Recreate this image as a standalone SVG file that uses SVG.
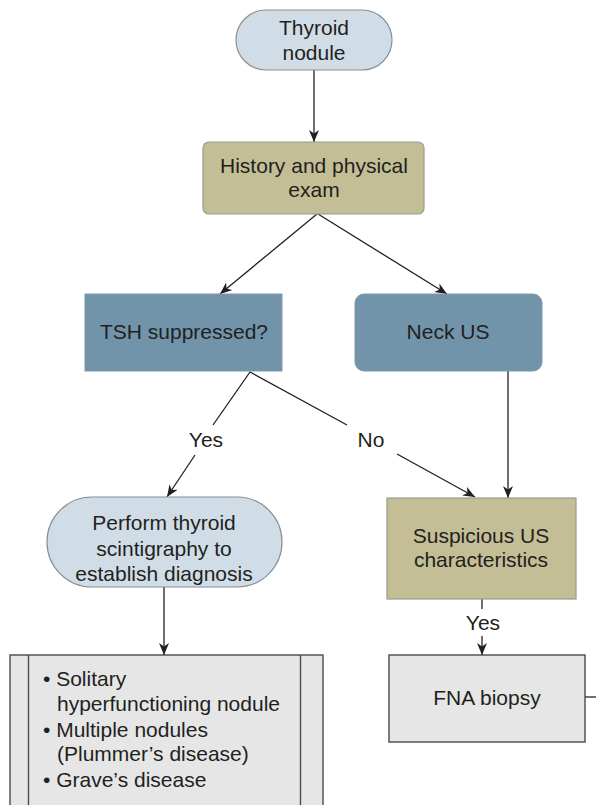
<svg xmlns="http://www.w3.org/2000/svg" width="596" height="805" viewBox="0 0 596 805">
<style>
text{font-family:"Liberation Sans",Arial,sans-serif;font-size:21px;fill:#231f20}
.c{text-anchor:middle}
.pill{fill:#d1dde6;stroke:#8a8f94;stroke-width:1.2}
.tan{fill:#c3be95;stroke:#9a9a90;stroke-width:1.2}
.blue{fill:#7194ab;stroke:#7f98aa;stroke-width:1}
.gray{fill:#e6e6e6;stroke:#4a4a4a;stroke-width:1.4}
.ln{fill:none;stroke:#231f20;stroke-width:1.3}
</style>
<defs>
<marker id="ah" viewBox="0 0 12 10" refX="12" refY="5" markerWidth="12" markerHeight="10" markerUnits="userSpaceOnUse" orient="auto">
<path d="M0,0 L12,5 L0,10 L3.5,5 z" fill="#231f20"/>
</marker>
</defs>
<rect width="596" height="805" fill="#ffffff"/>
<g id="connectors">
<line class="ln" x1="314" y1="70" x2="314" y2="142" marker-end="url(#ah)"/>
<line class="ln" x1="317" y1="214" x2="220" y2="294" marker-end="url(#ah)"/>
<line class="ln" x1="318" y1="214" x2="447" y2="294" marker-end="url(#ah)"/>
<polyline class="ln" points="213,425 250,372 347,425"/>
<line class="ln" x1="195" y1="455" x2="167" y2="497" marker-end="url(#ah)"/>
<line class="ln" x1="397" y1="454" x2="475" y2="497" marker-end="url(#ah)"/>
<line class="ln" x1="508" y1="371" x2="508" y2="498" marker-end="url(#ah)"/>
<line class="ln" x1="482" y1="599" x2="482" y2="609"/>
<line class="ln" x1="482" y1="636" x2="482" y2="655" marker-end="url(#ah)"/>
<line class="ln" x1="164" y1="587" x2="164" y2="655" marker-end="url(#ah)"/>
<line class="ln" x1="585" y1="697" x2="596" y2="697"/>
<text class="c" x="206" y="447">Yes</text>
<text class="c" x="371" y="447">No</text>
<text class="c" x="483" y="630">Yes</text>
</g>
<g id="thyroid-nodule">
<rect class="pill" x="236" y="10" width="156" height="60" rx="30"/>
<text class="c" x="314" y="35">Thyroid</text>
<text class="c" x="314" y="60">nodule</text>
</g>
<g id="history">
<rect class="tan" x="203" y="142" width="221" height="72" rx="6"/>
<text class="c" x="314" y="173">History and physical</text>
<text class="c" x="314" y="197">exam</text>
</g>
<g id="tsh">
<rect class="blue" x="85" y="294" width="197" height="77"/>
<text class="c" x="184" y="339">TSH suppressed?</text>
</g>
<g id="neck-us">
<rect class="blue" x="355" y="294" width="187" height="77" rx="9"/>
<text class="c" x="448" y="339">Neck US</text>
</g>
<g id="scintigraphy">
<rect class="pill" x="47" y="497" width="235" height="90" rx="45"/>
<text class="c" x="164" y="530">Perform thyroid</text>
<text class="c" x="164" y="556">scintigraphy to</text>
<text class="c" x="164" y="581">establish diagnosis</text>
</g>
<g id="suspicious">
<rect class="tan" x="387" y="498" width="189" height="101"/>
<text class="c" x="481" y="543">Suspicious US</text>
<text class="c" x="481" y="567">characteristics</text>
</g>
<g id="fna">
<rect class="gray" x="389" y="655" width="196" height="87"/>
<text class="c" x="487" y="705">FNA biopsy</text>
</g>
<g id="diagnoses">
<rect class="gray" x="10" y="655" width="313" height="160"/>
<line x1="28.5" y1="655" x2="28.5" y2="805" stroke="#4a4a4a" stroke-width="1.4"/>
<line x1="300.5" y1="655" x2="300.5" y2="805" stroke="#4a4a4a" stroke-width="1.4"/>
<text x="43" y="686">• Solitary</text>
<text x="57" y="711">hyperfunctioning nodule</text>
<text x="43" y="737">• Multiple nodules</text>
<text x="57" y="761">(Plummer’s disease)</text>
<text x="43" y="787">• Grave’s disease</text>
</g>
</svg>
